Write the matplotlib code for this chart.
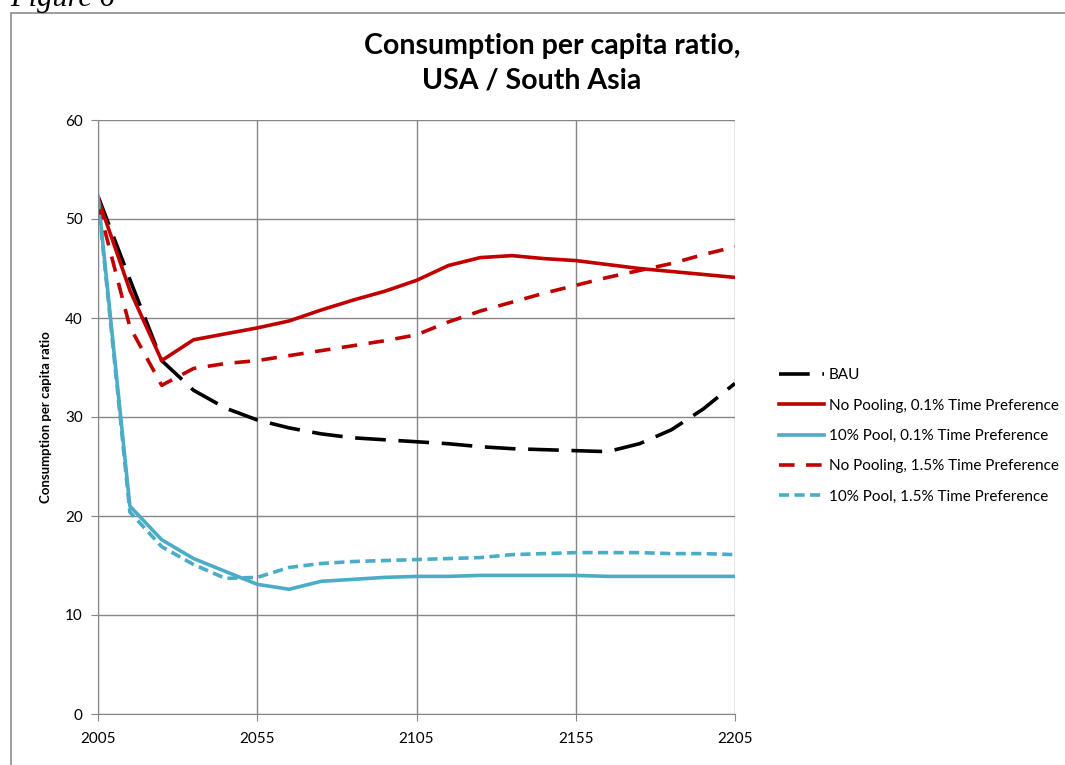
import numpy as np
import matplotlib
matplotlib.use('Agg')
from matplotlib import pyplot as plt
from matplotlib.patches import Rectangle

# data, one point every 10 years
years = list(range(2005, 2206, 10))
bau = [52.3, 43.9, 35.7, 32.7, 30.9, 29.7, 28.9, 28.3, 27.9, 27.7, 27.5,
       27.3, 27.0, 26.8, 26.7, 26.6, 26.5, 27.3, 28.7, 30.8, 33.4]
nopool_01 = [52.1, 42.8, 35.7, 37.8, 38.4, 39.0, 39.7, 40.8, 41.8, 42.7, 43.8,
             45.3, 46.1, 46.3, 46.0, 45.8, 45.4, 45.0, 44.7, 44.4, 44.1]
pool10_01 = [52.3, 21.0, 17.6, 15.7, 14.4, 13.1, 12.6, 13.4, 13.6, 13.8, 13.9,
             13.9, 14.0, 14.0, 14.0, 14.0, 13.9, 13.9, 13.9, 13.9, 13.9]
nopool_15 = [51.5, 39.1, 33.2, 34.9, 35.4, 35.7, 36.2, 36.7, 37.2, 37.7, 38.3,
             39.6, 40.7, 41.6, 42.5, 43.3, 44.1, 44.8, 45.5, 46.4, 47.2]
pool10_15 = [52.0, 20.4, 16.9, 15.1, 13.7, 13.8, 14.8, 15.2, 15.4, 15.5, 15.6,
             15.7, 15.8, 16.1, 16.2, 16.3, 16.3, 16.3, 16.2, 16.2, 16.1]

labels = ['BAU', 'No Pooling, 0.1% Time Preference', '10% Pool, 0.1% Time Preference',
          'No Pooling, 1.5% Time Preference', '10% Pool, 1.5% Time Preference']
title_lines = ['Consumption per capita ratio,', 'USA / South Asia']
xticks = [2005, 2055, 2105, 2155, 2205]
yticks = [0, 10, 20, 30, 40, 50, 60]

RED = '#C00000'
CYAN = '#4BACC6'
GRID = '#868686'

plt.rcParams['font.family'] = ['Lato', 'DejaVu Sans']

fig = plt.figure(figsize=(10.65, 7.65), dpi=100)
ax = fig.add_axes([98/1065, 1-714/765, 637/1065, 594/765])

lw = 2.6
ax.plot(years, bau, color='black', lw=lw, dashes=(8.5, 3.5), label=labels[0])
ax.plot(years, nopool_01, color=RED, lw=lw, label=labels[1])
ax.plot(years, pool10_01, color=CYAN, lw=lw, label=labels[2])
ax.plot(years, nopool_15, color=RED, lw=lw, dashes=(4.3, 3.2), label=labels[3])
ax.plot(years, pool10_15, color=CYAN, lw=lw, dashes=(2.8, 1.5), label=labels[4])

ax.set_xlim(2005, 2205)
ax.set_ylim(0, 60)
ax.set_xticks(xticks)
ax.set_yticks(yticks)
ax.grid(True, color=GRID, lw=1)
ax.set_axisbelow(True)
for s in ax.spines.values():
    s.set_color(GRID)
ax.spines['top'].set_visible(False)
ax.spines['right'].set_visible(False)
ax.tick_params(axis='both', direction='out', length=5, color=GRID, labelsize=11, pad=6)
ax.tick_params(axis='x', pad=8)

ax.set_ylabel('Consumption per capita ratio', fontsize=9.5, fontweight='bold', labelpad=9)

# two title lines, each centred on its own spot as in the original
fig.text(552/1065, 1-46/765, title_lines[0], ha='center', va='center',
         fontsize=20.5, fontweight='bold')
fig.text(532/1065, 1-80/765, title_lines[1], ha='center', va='center',
         fontsize=20.5, fontweight='bold')

ax.legend(loc='center left', bbox_to_anchor=(1.047, 0.468), frameon=False,
          fontsize=11, handlelength=2.95, handletextpad=0.33, labelspacing=1.07)

# page frame and caption cut off at the top
fig.patches.append(Rectangle((11/1065, -0.05), 1.2, 1.05-13/765, transform=fig.transFigure,
                             fill=False, edgecolor='#8c8c8c', lw=1.2))
fig.text(0.01, 1-6/765, 'Figure 6', ha='left', va='baseline', fontsize=22,
         style='italic', family='Liberation Serif')

fig.savefig('out.png', dpi=100)
